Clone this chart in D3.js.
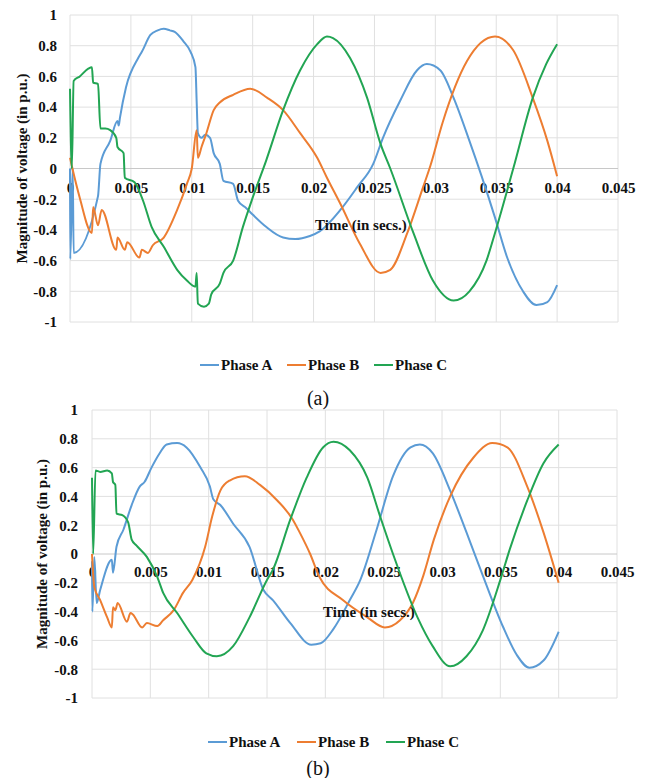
<!DOCTYPE html>
<html>
<head>
<meta charset="utf-8">
<script src="https://cdn.jsdelivr.net/npm/d3@7"></script>
<style>
  body { margin: 0; background: #fff; }
  svg, svg text { font-family: "Liberation Serif", "DejaVu Serif", serif; }
</style>
</head>
<body>
<div id="chart"></div>
<script>
// time ticks and voltage ticks shared by both panels
var xTicks = [0, 0.005, 0.01, 0.015, 0.02, 0.025, 0.03, 0.035, 0.04, 0.045];
var xTickLabels = ["0", "0.005", "0.01", "0.015", "0.02", "0.025", "0.03", "0.035", "0.04", "0.045"];
var yTicks = [1, 0.8, 0.6, 0.4, 0.2, 0, -0.2, -0.4, -0.6, -0.8, -1];
var yTickLabels = ["1", "0.8", "0.6", "0.4", "0.2", "0", "-0.2", "-0.4", "-0.6", "-0.8", "-1"];
var seriesNames = ["Phase A", "Phase B", "Phase C"];
var captions = ["(a)", "(b)"];

// panel (a): [time, p.u.]
var phaseA_a = [[0,0],[0.00002,-0.59],[0.00022,0],[0.0003,-0.55],[0.0023,-0.18],[0.0025,0.03],[0.0033,0.18],
  [0.0039,0.31],[0.004,0.28],[0.0041,0.33],[0.0046,0.53],[0.0056,0.72],[0.0059,0.76],[0.0066,0.87],[0.0072,0.9],
  [0.0077,0.91],[0.0082,0.9],[0.0086,0.89],[0.0093,0.83],[0.0099,0.76],[0.0103,0.66],[0.0104,0.44],[0.0105,0.23],
  [0.0108,0.2],[0.0111,0.22],[0.0115,0.2],[0.0118,0.1],[0.0123,0.03],[0.0126,-0.08],[0.0134,-0.1],[0.0138,-0.21],
  [0.0145,-0.26],[0.015,-0.3],[0.0161,-0.38],[0.0175,-0.45],[0.0185,-0.46],[0.0197,-0.44],[0.0205,-0.41],
  [0.0222,-0.27],[0.0236,-0.12],[0.0249,0.03],[0.0257,0.2],[0.0271,0.44],[0.0285,0.64],[0.0293,0.68],
  [0.0304,0.64],[0.0315,0.46],[0.0328,0.18],[0.0338,-0.05],[0.0349,-0.32],[0.0359,-0.58],[0.0372,-0.8],
  [0.0383,-0.89],[0.0392,-0.87],[0.04,-0.76]];
var phaseB_a = [[0,0.07],[0.0002,0],[0.0008,-0.19],[0.0018,-0.42],[0.0019,-0.25],[0.0023,-0.37],[0.0026,-0.27],
  [0.0038,-0.53],[0.0039,-0.45],[0.0045,-0.53],[0.0047,-0.48],[0.0057,-0.58],[0.0059,-0.53],[0.0064,-0.55],
  [0.0068,-0.5],[0.0077,-0.45],[0.0088,-0.27],[0.0096,-0.1],[0.01,0],[0.0104,0.25],[0.0105,0.07],[0.0108,0.14],
  [0.0112,0.23],[0.0118,0.38],[0.0123,0.43],[0.0134,0.48],[0.0148,0.52],[0.0162,0.46],[0.0175,0.38],
  [0.0189,0.23],[0.0203,0.07],[0.0211,-0.06],[0.0222,-0.23],[0.0238,-0.49],[0.0255,-0.68],[0.0263,-0.66],
  [0.0277,-0.42],[0.029,-0.12],[0.0296,0.02],[0.0306,0.3],[0.0326,0.7],[0.0349,0.86],[0.0364,0.77],
  [0.038,0.46],[0.0392,0.18],[0.04,-0.05]];
var phaseC_a = [[0,0.52],[0.00015,0],[0.0003,0.57],[0.0008,0.6],[0.0015,0.65],[0.0018,0.66],[0.0019,0.56],
  [0.0023,0.55],[0.0025,0.26],[0.0029,0.26],[0.0033,0.25],[0.0038,0.2],[0.0039,0.14],[0.0044,0.1],
  [0.0045,-0.06],[0.0053,-0.09],[0.006,-0.21],[0.0067,-0.38],[0.0077,-0.51],[0.0088,-0.66],[0.0096,-0.73],
  [0.0103,-0.77],[0.0104,-0.68],[0.0105,-0.88],[0.011,-0.9],[0.0114,-0.88],[0.0116,-0.82],[0.0123,-0.75],
  [0.0126,-0.68],[0.0134,-0.6],[0.0142,-0.38],[0.015,-0.19],[0.0161,0.05],[0.0175,0.38],[0.0189,0.64],
  [0.0203,0.81],[0.0211,0.86],[0.0216,0.85],[0.023,0.72],[0.0244,0.46],[0.0255,0.16],[0.0263,0],
  [0.0282,-0.42],[0.0298,-0.73],[0.0315,-0.86],[0.0328,-0.8],[0.0342,-0.6],[0.0349,-0.42],[0.0364,0],
  [0.038,0.46],[0.0391,0.68],[0.04,0.81]];

// panel (b)
var phaseA_b = [[0,-0.05],[0.00003,-0.4],[0.0002,-0.02],[0.0004,-0.34],[0.0007,-0.25],[0.0017,-0.04],
  [0.0018,-0.13],[0.0021,0.05],[0.0027,0.17],[0.0034,0.34],[0.0041,0.47],[0.0045,0.5],[0.0051,0.6],
  [0.0058,0.7],[0.0064,0.76],[0.0073,0.77],[0.0081,0.74],[0.0093,0.6],[0.0101,0.47],[0.0104,0.38],
  [0.011,0.34],[0.0121,0.21],[0.0135,0.05],[0.0147,-0.25],[0.0155,-0.32],[0.017,-0.48],[0.0188,-0.63],
  [0.0196,-0.62],[0.0207,-0.52],[0.0221,-0.32],[0.023,-0.18],[0.0244,0.17],[0.0258,0.54],[0.0273,0.74],
  [0.0281,0.76],[0.0292,0.7],[0.0307,0.44],[0.0321,0.15],[0.0335,-0.15],[0.0352,-0.5],[0.0364,-0.7],
  [0.0375,-0.79],[0.0387,-0.74],[0.04,-0.54]];
var phaseB_b = [[0,0],[0.0002,-0.23],[0.0007,-0.32],[0.0013,-0.44],[0.0017,-0.51],[0.0018,-0.37],[0.002,-0.39],
  [0.0022,-0.34],[0.003,-0.47],[0.0033,-0.41],[0.0035,-0.42],[0.0043,-0.51],[0.0047,-0.48],[0.0056,-0.5],
  [0.0061,-0.46],[0.007,-0.39],[0.0078,-0.27],[0.0086,-0.18],[0.0097,0.05],[0.0103,0.26],[0.011,0.44],
  [0.0118,0.51],[0.0131,0.54],[0.0144,0.48],[0.0159,0.37],[0.0172,0.24],[0.0178,0.15],[0.0187,0],
  [0.0195,-0.16],[0.0215,-0.32],[0.0236,-0.44],[0.0251,-0.51],[0.0264,-0.46],[0.0275,-0.34],[0.0284,-0.15],
  [0.0293,0.1],[0.0307,0.4],[0.0327,0.67],[0.0343,0.77],[0.0356,0.74],[0.0373,0.47],[0.0387,0.15],[0.04,-0.2]];
var phaseC_b = [[0,0.53],[0.0001,0],[0.0003,0.58],[0.0007,0.57],[0.0013,0.58],[0.0017,0.56],[0.0018,0.5],
  [0.002,0.48],[0.0021,0.28],[0.0026,0.27],[0.0031,0.22],[0.0034,0.1],[0.0038,0.06],[0.0047,-0.02],
  [0.0056,-0.16],[0.0061,-0.27],[0.0073,-0.41],[0.0087,-0.58],[0.0098,-0.69],[0.0107,-0.71],[0.0121,-0.64],
  [0.0135,-0.44],[0.015,-0.18],[0.0155,-0.11],[0.017,0.24],[0.0184,0.53],[0.0198,0.74],[0.0207,0.78],
  [0.0221,0.72],[0.0236,0.53],[0.0247,0.26],[0.0258,0],[0.0279,-0.44],[0.0292,-0.64],[0.0307,-0.78],
  [0.0321,-0.71],[0.0335,-0.53],[0.035,-0.18],[0.0358,0.03],[0.0373,0.37],[0.0387,0.63],[0.04,0.76]];

var COLORS = ["#5b9bd5", "#ed7d31", "#22a553"];
var FONT = "Liberation Serif, DejaVu Serif, serif";
var W = 651, H = 778;

var svg = d3.select("#chart").append("svg")
  .attr("width", W)
  .attr("height", H)
  .attr("font-family", FONT);

var panels = [
  { data: [phaseA_a, phaseB_a, phaseC_a], left: 70, right: 618, top: 15, bottom: 322,
    pad: 14, yPad: 13, titleX: 27, timeX: 315, timeY: 230, legendX: 200, legendStep: 87,
    legendY: 365, captionY: 405 },
  { data: [phaseA_b, phaseB_b, phaseC_b], left: 92, right: 617, top: 410, bottom: 698,
    pad: 12, yPad: 14, titleX: 47, timeX: 323, timeY: 617, legendX: 208, legendStep: 89,
    legendY: 742, captionY: 775 }
];

panels.forEach(function (p, i) { drawPanel(p, i); });

function drawPanel(p, idx) {
  var x = d3.scaleLinear().domain([0, 0.045]).range([p.left, p.right]);
  var y = d3.scaleLinear().domain([-1, 1]).range([p.bottom, p.top]);
  var g = svg.append("g");

  // gridlines
  g.append("g").selectAll("line.v")
    .data(xTicks).enter().append("line")
    .attr("x1", function (d) { return x(d); })
    .attr("x2", function (d) { return x(d); })
    .attr("y1", y(1)).attr("y2", y(-1))
    .attr("stroke", "#e0e0e0").attr("stroke-width", 1);
  g.append("g").selectAll("line.h")
    .data(yTicks).enter().append("line")
    .attr("x1", x(0)).attr("x2", x(0.045))
    .attr("y1", function (d) { return y(d); })
    .attr("y2", function (d) { return y(d); })
    .attr("stroke", function (d) { return d === 0 ? "#c8c8c8" : "#e0e0e0"; })
    .attr("stroke-width", 1);

  // axes (labels only, Excel style)
  var xAxis = d3.axisBottom(x).tickValues(xTicks).tickSize(0).tickPadding(p.pad)
    .tickFormat(function (d, i) { return xTickLabels[i]; });
  var gx = g.append("g").attr("transform", "translate(0," + y(0) + ")").call(xAxis);
  gx.select(".domain").remove();

  var yAxis = d3.axisLeft(y).tickValues(yTicks).tickSize(0).tickPadding(p.yPad)
    .tickFormat(function (d, i) { return yTickLabels[i]; });
  var gy = g.append("g").attr("transform", "translate(" + x(0) + ",0)").call(yAxis);
  gy.select(".domain").remove();

  gx.attr("font-family", FONT).attr("font-size", 15).attr("font-weight", "bold");
  gy.attr("font-family", FONT).attr("font-size", 15).attr("font-weight", "bold");
  g.selectAll(".tick text").attr("fill", "#111");

  // series
  var line = d3.line()
    .x(function (d) { return x(d[0]); })
    .y(function (d) { return y(d[1]); })
    .curve(d3.curveMonotoneX);

  p.data.forEach(function (s, k) {
    g.append("path")
      .datum(s)
      .attr("d", line)
      .attr("fill", "none")
      .attr("stroke", COLORS[k])
      .attr("stroke-width", 2)
      .attr("stroke-linejoin", "round");
  });

  // axis titles
  g.append("text")
    .attr("transform", "translate(" + p.titleX + "," + ((p.top + p.bottom) / 2) + ") rotate(-90)")
    .attr("text-anchor", "middle")
    .attr("font-size", 15).attr("font-weight", "bold").attr("fill", "#111")
    .text("Magnitude of voltage (in p.u.)");
  g.append("text")
    .attr("x", p.timeX).attr("y", p.timeY)
    .attr("font-size", 15).attr("font-weight", "bold").attr("fill", "#111")
    .text("Time (in secs.)");

  // legend
  var lg = g.append("g").selectAll("g")
    .data(seriesNames).enter().append("g")
    .attr("transform", function (d, k) { return "translate(" + (p.legendX + k * p.legendStep) + "," + p.legendY + ")"; });
  lg.append("line")
    .attr("x1", 0).attr("x2", 19).attr("y1", 0).attr("y2", 0)
    .attr("stroke", function (d, k) { return COLORS[k]; })
    .attr("stroke-width", 2);
  lg.append("text")
    .attr("x", 21).attr("y", 5)
    .attr("font-size", 15).attr("font-weight", "bold").attr("fill", "#111")
    .text(function (d) { return d; });

  // caption
  g.append("text")
    .attr("x", 318).attr("y", p.captionY)
    .attr("text-anchor", "middle")
    .attr("font-size", 20).attr("fill", "#111")
    .text(captions[idx]);
}
</script>
</body>
</html>
